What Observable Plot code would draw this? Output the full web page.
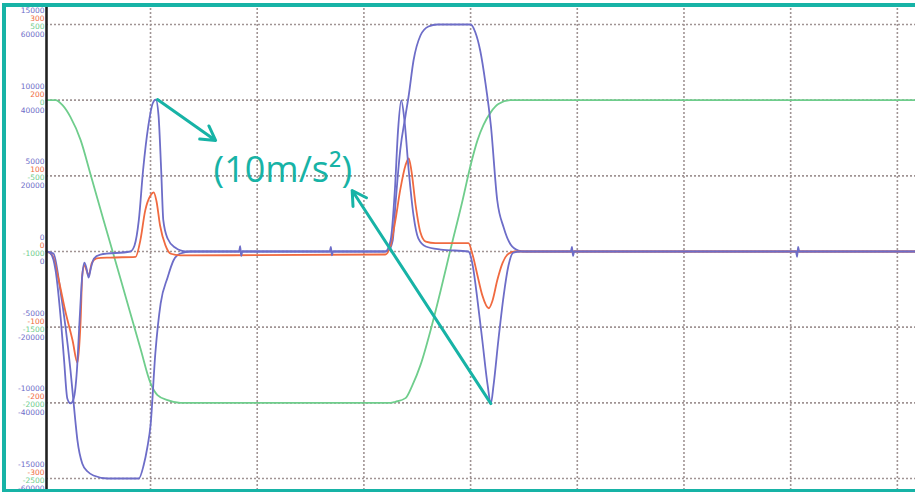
<!DOCTYPE html>
<html>
<head>
<meta charset="utf-8">
<script src="https://cdn.jsdelivr.net/npm/d3@7"></script>
<script src="https://cdn.jsdelivr.net/npm/@observablehq/plot@0.6"></script>
<style>
  html, body { margin: 0; padding: 0; background: #fff; }
  #wrap { position: relative; width: 915px; height: 492px; overflow: hidden; }
  #frame {
    position: absolute; left: 2px; top: 3px; width: 913px; height: 489px;
    box-sizing: border-box; pointer-events: none;
    border-left: 4px solid #17b3a6; border-top: 4px solid #17b3a6; border-bottom: 3px solid #17b3a6;
    box-shadow: 0 -3px 0 0 #fff, -2px 0 0 0 #fff;
  }
</style>
</head>
<body>
<div id="wrap"><div id="chart"></div><div id="frame"></div></div>
<script>
// ---- grid / tick labels ----
const xTicks = [100, 200, 300, 400, 500, 600, 700, 800];          // time (ms)
const yDivs = [3, 2, 1, 0, -1, -2, -3];                            // grid divisions
const jerkTicks = ["15000", "10000", "5000", "0", "-5000", "-10000", "-15000"];
const accTicks  = ["300", "200", "100", "0", "-100", "-200", "-300"];
const posTicks  = ["500", "0", "-500", "-1000", "-1500", "-2000", "-2500"];
const velTicks  = ["60000", "40000", "20000", "0", "-20000", "-40000", "-60000"];

// ---- series: [time ms, value in own units] ----
const jerk = [
  [2.5,0],[6,-100],[11,-1250],[16,-4560],[19,-7200],[22,-9710],[25,-10040],[28,-9710],[31,-7860],
  [33.5,-4560],[36,-1590],[38,-730],[40,-1120],[42,-1720],[44,-1120],[47,-460],[53,-200],[81,0],
  [85,400],[89,2050],[93,5350],[98,8330],[102,9780],[105,10040],[107.5,8990],[110,5350],[112,2050],
  [116,860],[123,260],[133,0],[183,0],[184,350],[185,-300],[186,0],[268,0],[269,300],[270,-250],[271,0],
  [320,0],[325,730],[329,4030],[332,8000],[335,9980],[338,8660],[342,5350],[346.5,2380],[351,860],
  [358,330],[372,130],[398,0],[402,-930],[406.5,-3240],[411,-5880],[416,-8850],[419,-10050],
  [421.5,-8850],[426,-5880],[431,-2910],[435.5,-930],[440,-70],[447,0],[494,0],[495,300],[496,-300],[497,0],
  [705,0],[706,-350],[707,300],[708,0],[817,0]
];
const acc = [
  [2.5,0],[8,-5],[14,-38],[20,-78],[27,-118],[31.5,-147],[34.5,-91],[36,-32],[38,-18],[40,-25],
  [42,-32],[45,-15],[49.5,-9],[62.5,-8],[86,-7],[90.5,15],[95,54],[100,74],[103,78],[105.5,67],
  [109,34],[114,8],[119,-3],[128,-5],[320,-4],[325,8],[329.5,41],[334,81],[339,114],[342,123],
  [344.5,107],[348.5,61],[353,25],[358,13],[367,11],[398,11],[402,-5],[406.5,-32],[411,-58],
  [417,-75],[420.5,-65],[425,-38],[430,-15],[435.5,-3],[442,0],[817,0]
];
const vel = [
  [2.5,0],[9,-530],[15.5,-10300],[25,-31450],[29.5,-44670],[31.5,-49950],[36,-56030],[41,-58150],
  [46.5,-59200],[60,-60000],[89,-60000],[93.5,-56560],[97,-51800],[100,-45990],[104.5,-26960],
  [109.5,-13740],[116,-6870],[121.5,-2380],[128,-530],[137.5,0],[320,0],[323,260],[327,2910],
  [329.5,12160],[334,26690],[339,35940],[342,41230],[346.5,50480],[353,57090],[360.5,59470],
  [369,60000],[395,60000],[400,60000],[404.5,57880],[409,53120],[414,44400],[419,33300],[425,13480],
  [431,6340],[437.5,1850],[445,260],[451.5,0],[817,0]
];
const pos = [
  [2.5,0],[11,0],[17.5,-33],[25,-112],[34.5,-264],[44,-496],[56,-793],[72,-1183],[90.5,-1639],
  [100,-1870],[106.5,-1949],[116,-1982],[128,-2000],[325,-2000],[329.5,-1993],[339,-1969],
  [345.5,-1883],[353,-1751],[362.5,-1520],[372,-1256],[381,-991],[392.5,-661],[400,-430],
  [406.5,-264],[412,-165],[419,-79],[426,-26],[437.5,0],[817,0]
];

// units per grid division, and the division where each series' zero sits
const perDiv = {jerk: 5000, acc: 100, vel: 20000, pos: 500};
const zeroDiv = {jerk: 0, acc: 0, vel: 0, pos: 2};
const toDiv = (s) => (d) => zeroDiv[s] + d[1] / perDiv[s];

// annotation
const noteText = ["(10m/s²)"];
const noteAt = [[224, 1.07]];
const arrowEnds = [[161, 1.467], [289, 0.806]];

const jerkMax = d3.greatest(jerk.filter(d => d[0] < 200), d => d[1]);
const jerkMin = d3.least(jerk.filter(d => d[0] > 300), d => d[1]);
const arrows = [
  {x1: jerkMax[0] + 1.5, y1: toDiv("jerk")(jerkMax), x2: arrowEnds[0][0], y2: arrowEnds[0][1]},
  {x1: jerkMin[0], y1: toDiv("jerk")(jerkMin), x2: arrowEnds[1][0], y2: arrowEnds[1][1]}
];

const blue = "#6d6dc8", orange = "#f06a40", green = "#6fcd8c", teal = "#17b3a6";
const gridColor = "#a09494";
const labelFont = "DejaVu Sans";

function tickLabels(labels, dy, fill) {
  return Plot.text(yDivs.map((v, i) => ({v, label: labels[i]})), {
    y: "v", text: "label", frameAnchor: "left", textAnchor: "end",
    dx: -2, dy, fill, fontSize: 7.5, fontFamily: labelFont
  });
}

const chart = Plot.plot({
  width: 915,
  height: 492,
  marginLeft: 46, marginRight: 0, marginTop: 0, marginBottom: 0,
  x: {domain: [2.5, 817], axis: null},
  y: {domain: [-3.185, 3.317], axis: null},
  style: {background: "#fff", overflow: "visible"},
  marks: [
    Plot.ruleX(xTicks, {stroke: gridColor, strokeWidth: 1.6, strokeDasharray: "2,2"}),
    Plot.ruleY(yDivs, {stroke: gridColor, strokeWidth: 1.6, strokeDasharray: "2,2"}),
    Plot.line(pos, {x: d => d[0], y: toDiv("pos"), stroke: green, strokeWidth: 1.8, curve: "monotone-x"}),
    Plot.line(vel, {x: d => d[0], y: toDiv("vel"), stroke: blue, strokeWidth: 1.8, curve: "monotone-x"}),
    Plot.line(acc, {x: d => d[0], y: toDiv("acc"), stroke: orange, strokeWidth: 1.8, curve: "monotone-x"}),
    Plot.line(jerk, {x: d => d[0], y: toDiv("jerk"), stroke: blue, strokeWidth: 1.8, curve: "monotone-x"}),
    Plot.ruleX([2.5], {stroke: "#222", strokeWidth: 2.6}),
    tickLabels(jerkTicks, -14, blue),
    tickLabels(accTicks, -6, orange),
    tickLabels(posTicks, 2, green),
    tickLabels(velTicks, 10, blue),
    Plot.arrow(arrows, {x1: "x1", y1: "y1", x2: "x2", y2: "y2", stroke: teal, strokeWidth: 3, headLength: 8}),
    Plot.text(noteText, {x: () => noteAt[0][0], y: () => noteAt[0][1], text: d => d,
      fill: teal, fontSize: 36, fontFamily: "Open Sans"})
  ]
});
document.getElementById("chart").appendChild(chart);
</script>
</body>
</html>
